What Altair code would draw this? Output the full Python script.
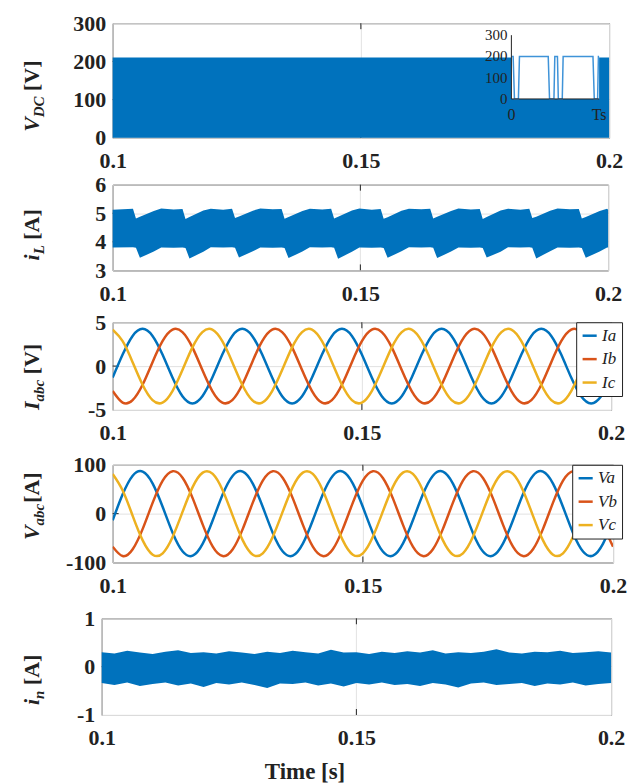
import altair as alt
import pandas as pd

# ---------------- colours / fonts ----------------
BLUE = "#0072BD"
RED = "#D95319"
YELLOW = "#EDB120"
INSET_BLUE = "#3f93d8"
INK = "#222222"
GRID = "#e2e2e2"
FONT = "Liberation Serif"

# ---------------- data ----------------
x_ticks = [0.1, 0.15, 0.2]

# panel 1: DC-link voltage (dense PWM -> solid envelope)
vdc_t = [0.1, 0.2]
vdc_hi = [210, 210]
vdc_lo = [0, 0]
vdc_yticks = [0, 100, 200, 300]

# inset: one switching period
ins_s = [0, 0.02, 0.035, 0.08, 0.092, 0.42, 0.435, 0.485, 0.495, 0.525, 0.535,
         0.58, 0.59, 0.93, 0.945, 0.983, 0.992, 1.0]
ins_v = [200, 200, 0, 0, 200, 200, 0, 0, 200, 200, 0, 0, 200, 200, 0, 0, 200, 200]
ins_yticks = [0, 100, 200, 300]
ins_xticks = [0, 1]
ins_xlabels = ["0", "Ts"]

# panel 2: inductor current envelope
il_t = [0.1000,
        0.1041, 0.1047, 0.1055, 0.1083, 0.1098, 0.1123,
        0.1141, 0.1147, 0.1155, 0.1183, 0.1198, 0.1223,
        0.1241, 0.1247, 0.1255, 0.1283, 0.1298, 0.1323,
        0.1341, 0.1347, 0.1355, 0.1383, 0.1398, 0.1423,
        0.1441, 0.1447, 0.1455, 0.1483, 0.1498, 0.1523,
        0.1541, 0.1547, 0.1555, 0.1583, 0.1598, 0.1623,
        0.1641, 0.1647, 0.1655, 0.1683, 0.1698, 0.1723,
        0.1741, 0.1747, 0.1755, 0.1783, 0.1798, 0.1823,
        0.1841, 0.1847, 0.1855, 0.1883, 0.1898, 0.1923,
        0.1941, 0.1947, 0.1955, 0.1983, 0.1998, 0.2000]
il_hi = [5.12,
         5.16, 4.82, 4.88, 5.08, 5.17, 5.13,
         5.15, 4.80, 4.87, 5.10, 5.16, 5.12,
         5.16, 4.83, 4.89, 5.09, 5.17, 5.14,
         5.15, 4.81, 4.87, 5.08, 5.16, 5.13,
         5.16, 4.82, 4.88, 5.10, 5.17, 5.12,
         5.15, 4.81, 4.86, 5.09, 5.16, 5.14,
         5.16, 4.82, 4.88, 5.08, 5.17, 5.13,
         5.15, 4.80, 4.87, 5.10, 5.16, 5.12,
         5.16, 4.83, 4.88, 5.09, 5.17, 5.14,
         5.15, 4.82, 4.87, 5.08, 5.16, 5.12]
il_lo = [3.80,
         3.81, 3.79, 3.44, 3.66, 3.80, 3.79,
         3.80, 3.78, 3.42, 3.65, 3.81, 3.80,
         3.81, 3.79, 3.45, 3.67, 3.80, 3.79,
         3.80, 3.78, 3.43, 3.66, 3.81, 3.80,
         3.81, 3.79, 3.41, 3.65, 3.80, 3.79,
         3.80, 3.78, 3.44, 3.67, 3.81, 3.80,
         3.81, 3.79, 3.43, 3.66, 3.80, 3.79,
         3.80, 3.78, 3.45, 3.65, 3.81, 3.80,
         3.81, 3.79, 3.42, 3.67, 3.80, 3.79,
         3.80, 3.78, 3.44, 3.66, 3.80, 3.80]
il_yticks = [3, 4, 5, 6]

# panels 3 and 4: three-phase currents and voltages (2 ms samples)
t_ph = [0.100, 0.102, 0.104, 0.106, 0.108, 0.110, 0.112, 0.114, 0.116, 0.118,
        0.120, 0.122, 0.124, 0.126, 0.128, 0.130, 0.132, 0.134, 0.136, 0.138,
        0.140, 0.142, 0.144, 0.146, 0.148, 0.150, 0.152, 0.154, 0.156, 0.158,
        0.160, 0.162, 0.164, 0.166, 0.168, 0.170, 0.172, 0.174, 0.176, 0.178,
        0.180, 0.182, 0.184, 0.186, 0.188, 0.190, 0.192, 0.194, 0.196, 0.198,
        0.200]
ia = [-1.31, 1.31, 3.44, 4.25, 3.44, 1.31, -1.31, -3.44, -4.25, -3.44,
      -1.31, 1.31, 3.44, 4.25, 3.44, 1.31, -1.31, -3.44, -4.25, -3.44,
      -1.31, 1.31, 3.44, 4.25, 3.44, 1.31, -1.31, -3.44, -4.25, -3.44,
      -1.31, 1.31, 3.44, 4.25, 3.44, 1.31, -1.31, -3.44, -4.25, -3.44,
      -1.31, 1.31, 3.44, 4.25, 3.44, 1.31, -1.31, -3.44, -4.25, -3.44,
      -1.31]
ib = [-2.84, -4.16, -3.88, -2.13, 0.45, 2.84, 4.16, 3.88, 2.13, -0.45,
      -2.84, -4.16, -3.88, -2.13, 0.45, 2.84, 4.16, 3.88, 2.13, -0.45,
      -2.84, -4.16, -3.88, -2.13, 0.45, 2.84, 4.16, 3.88, 2.13, -0.45,
      -2.84, -4.16, -3.88, -2.13, 0.45, 2.84, 4.16, 3.88, 2.13, -0.45,
      -2.84, -4.16, -3.88, -2.13, 0.45, 2.84, 4.16, 3.88, 2.13, -0.45,
      -2.84]
ic = [4.16, 2.84, 0.45, -2.13, -3.88, -4.16, -2.84, -0.45, 2.13, 3.88,
      4.16, 2.84, 0.45, -2.13, -3.88, -4.16, -2.84, -0.45, 2.13, 3.88,
      4.16, 2.84, 0.45, -2.13, -3.88, -4.16, -2.84, -0.45, 2.13, 3.88,
      4.16, 2.84, 0.45, -2.13, -3.88, -4.16, -2.84, -0.45, 2.13, 3.88,
      4.16, 2.84, 0.45, -2.13, -3.88, -4.16, -2.84, -0.45, 2.13, 3.88,
      4.16]
iabc_names = ["Ia", "Ib", "Ic"]
iabc_yticks = [-5, 0, 5]

va = [-13.6, 39.5, 77.5, 86.0, 61.5, 13.6, -39.5, -77.5, -86.0, -61.5,
      -13.6, 39.5, 77.5, 86.0, 61.5, 13.6, -39.5, -77.5, -86.0, -61.5,
      -13.6, 39.5, 77.5, 86.0, 61.5, 13.6, -39.5, -77.5, -86.0, -61.5,
      -13.6, 39.5, 77.5, 86.0, 61.5, 13.6, -39.5, -77.5, -86.0, -61.5,
      -13.6, 39.5, 77.5, 86.0, 61.5, 13.6, -39.5, -77.5, -86.0, -61.5,
      -13.6]
vb = [-67.6, -86.9, -73.0, -31.2, 22.5, 67.6, 86.9, 73.0, 31.2, -22.5,
      -67.6, -86.9, -73.0, -31.2, 22.5, 67.6, 86.9, 73.0, 31.2, -22.5,
      -67.6, -86.9, -73.0, -31.2, 22.5, 67.6, 86.9, 73.0, 31.2, -22.5,
      -67.6, -86.9, -73.0, -31.2, 22.5, 67.6, 86.9, 73.0, 31.2, -22.5,
      -67.6, -86.9, -73.0, -31.2, 22.5, 67.6, 86.9, 73.0, 31.2, -22.5,
      -67.6]
vc = [81.2, 47.4, -4.5, -54.8, -84.0, -81.2, -47.4, 4.5, 54.8, 84.0,
      81.2, 47.4, -4.5, -54.8, -84.0, -81.2, -47.4, 4.5, 54.8, 84.0,
      81.2, 47.4, -4.5, -54.8, -84.0, -81.2, -47.4, 4.5, 54.8, 84.0,
      81.2, 47.4, -4.5, -54.8, -84.0, -81.2, -47.4, 4.5, 54.8, 84.0,
      81.2, 47.4, -4.5, -54.8, -84.0, -81.2, -47.4, 4.5, 54.8, 84.0,
      81.2]
vabc_names = ["Va", "Vb", "Vc"]
vabc_yticks = [-100, 0, 100]

# panel 5: neutral current envelope
in_t = [0.1000, 0.1025, 0.1050, 0.1075, 0.1100, 0.1125, 0.1150, 0.1175, 0.1200, 0.1225,
        0.1250, 0.1275, 0.1300, 0.1325, 0.1350, 0.1375, 0.1400, 0.1425, 0.1450, 0.1475,
        0.1500, 0.1525, 0.1550, 0.1575, 0.1600, 0.1625, 0.1650, 0.1675, 0.1700, 0.1725,
        0.1750, 0.1775, 0.1800, 0.1825, 0.1850, 0.1875, 0.1900, 0.1925, 0.1950, 0.1975,
        0.2000]
in_hi = [0.30, 0.27, 0.33, 0.29, 0.26, 0.31, 0.34, 0.28, 0.30, 0.27,
         0.32, 0.29, 0.26, 0.31, 0.28, 0.33, 0.30, 0.27, 0.35, 0.29,
         0.30, 0.26, 0.31, 0.28, 0.32, 0.29, 0.34, 0.27, 0.30, 0.28,
         0.31, 0.36, 0.29, 0.27, 0.31, 0.30, 0.33, 0.28, 0.30, 0.32,
         0.29]
in_lo = [-0.34, -0.38, -0.33, -0.40, -0.36, -0.33, -0.39, -0.35, -0.42, -0.34,
         -0.37, -0.33, -0.38, -0.44, -0.35, -0.36, -0.33, -0.39, -0.35, -0.41,
         -0.34, -0.37, -0.33, -0.38, -0.36, -0.40, -0.34, -0.37, -0.43, -0.35,
         -0.33, -0.38, -0.36, -0.34, -0.40, -0.35, -0.37, -0.33, -0.39, -0.36,
         -0.34]
in_yticks = [-1, 0, 1]

# axis titles: (variable, subscript, unit)
p1_title = ["V", "DC", "[V]"]
p2_title = ["i", "L", "[A]"]
p3_title = ["I", "abc", "[V]"]
p4_title = ["V", "abc", "[A]"]
p5_title = ["i", "n", "[A]"]
xlabel_text = "Time [s]"

# ---------------- layout constants ----------------
W = [498, 497, 500, 502, 511]
H = [115, 86, 88, 98, 97]
LEFT = [102, 102, 102, 102, 91]
TOP = 11
BOTTOM = [34, 39, 42, 43, 58]
TS, SS = 22, 15
BI = {"V": .667, "D": .722, "C": .667, "i": .278, "L": .611, "I": .389,
      "a": .5, "b": .5, "c": .444, "n": .556}

ONE = pd.DataFrame({"k": [0]})
VIEW = alt.ViewBackground(stroke=INK, strokeWidth=1)
AXIS_STYLE = dict(labelFont=FONT, labelFontSize=22, labelFontWeight="bold", labelColor=INK,
                  labelFlush=False, labelOverlap=False, grid=True, gridColor=GRID,
                  domain=False, ticks=False, tickSize=0, title=None)


def xenc(field="t"):
    return alt.X(f"{field}:Q",
                 scale=alt.Scale(domain=[x_ticks[0], x_ticks[-1]], nice=False, zero=False),
                 axis=alt.Axis(values=x_ticks, labelExpr="format(datum.value, '~g')",
                               labelPadding=13, **AXIS_STYLE))


def yenc(ticks, field="v"):
    return alt.Y(f"{field}:Q",
                 scale=alt.Scale(domain=[ticks[0], ticks[-1]], nice=False, zero=False),
                 axis=alt.Axis(values=ticks,
                               labelExpr="(datum.value < 0 ? '-' : '') + format(abs(datum.value), '~g')",
                               labelPadding=7, **AXIS_STYLE))


def frame_layers(k, yticks):
    w, h = W[k], H[k]
    xin = pd.DataFrame({"t": x_ticks[1:-1]})
    yin = pd.DataFrame({"v": yticks[1:-1]})
    rule = dict(color=INK, strokeWidth=1)
    return [
        alt.Chart(xin).mark_rule(**rule).encode(x=xenc(), y=alt.value(0), y2=alt.value(6)),
        alt.Chart(xin).mark_rule(**rule).encode(x=xenc(), y=alt.value(h - 6), y2=alt.value(h)),
        alt.Chart(yin).mark_rule(**rule).encode(y=yenc(yticks), x=alt.value(0), x2=alt.value(6)),
        alt.Chart(yin).mark_rule(**rule).encode(y=yenc(yticks), x=alt.value(w - 6), x2=alt.value(w)),
        alt.Chart(ONE).mark_rule(opacity=0, strokeWidth=0).encode(
            x=alt.value(-LEFT[k]), y=alt.value(-TOP), y2=alt.value(h + BOTTOM[k])),
    ]


def ttext(label, size, style, x, y):
    return alt.Chart(ONE).mark_text(
        text=label, angle=270, align="left", baseline="alphabetic", font=FONT,
        fontSize=size, fontWeight="bold", fontStyle=style, color=INK
    ).encode(x=alt.value(x), y=alt.value(y))


def ytitle(parts, gap, x0, y0):
    main, sub, unit = parts
    y1 = y0 - sum(BI[c] for c in main) * TS
    y2 = y1 - sum(BI[c] for c in sub) * SS - gap
    return [ttext(main, TS, "italic", x0, y0),
            ttext(sub, SS, "italic", x0 + 5, y1),
            ttext(unit, TS, "normal", x0, y2)]


def legend(x, y):
    return alt.Legend(title=None, orient="none", legendX=x, legendY=y, direction="vertical",
                      fillColor="white", strokeColor=INK, padding=5, symbolType="stroke",
                      symbolSize=200, symbolStrokeWidth=2.5, rowPadding=5.5, labelOffset=4,
                      labelFont=FONT, labelFontSize=17, labelFontStyle="italic",
                      labelColor=INK, cornerRadius=0)


# ---------------- panel 1 ----------------
df_vdc = pd.DataFrame({"t": vdc_t, "v": vdc_hi, "v2": vdc_lo})
p1_main = alt.layer(
    *frame_layers(0, vdc_yticks),
    alt.Chart(df_vdc).mark_area(color=BLUE, opacity=1).encode(
        x=xenc(), y=yenc(vdc_yticks), y2="v2:Q"),
    *ytitle(p1_title, 5.5, -74, 109),
)

ins_xs = alt.Scale(domain=[ins_xticks[0], ins_xticks[-1]], range=[400, 488])
ins_ys = alt.Scale(domain=[ins_yticks[0], ins_yticks[-1]], range=[76, 12])
df_ins = pd.DataFrame({"s": ins_s, "v": ins_v})
df_ins_box = pd.DataFrame({"s0": [ins_xticks[0]], "s1": [ins_xticks[-1]],
                           "v0": [ins_yticks[0]], "v1": [ins_yticks[-1]]})
df_ins_y = pd.DataFrame({"s": [ins_xticks[0]] * len(ins_yticks), "v": ins_yticks,
                         "lab": [str(v) for v in ins_yticks]})
df_ins_x = pd.DataFrame({"s": ins_xticks, "v": [ins_yticks[0]] * len(ins_xticks),
                         "lab": ins_xlabels})
p1_inset = alt.layer(
    alt.Chart(df_ins_box).mark_rect(color="white").encode(
        x=alt.X("s0:Q", scale=ins_xs, axis=None), x2="s1:Q",
        y=alt.Y("v0:Q", scale=ins_ys, axis=None), y2="v1:Q"),
    alt.Chart(df_ins).mark_line(color=INSET_BLUE, strokeWidth=1.5).encode(
        x=alt.X("s:Q", scale=ins_xs, axis=None), y=alt.Y("v:Q", scale=ins_ys, axis=None)),
    alt.Chart(df_ins_box).mark_rule(color=INK, strokeWidth=1).encode(
        x=alt.X("s0:Q", scale=ins_xs, axis=None),
        y=alt.Y("v0:Q", scale=ins_ys, axis=None), y2="v1:Q"),
    alt.Chart(df_ins_box).mark_rule(color=INK, strokeWidth=1).encode(
        x=alt.X("s0:Q", scale=ins_xs, axis=None), x2="s1:Q",
        y=alt.Y("v0:Q", scale=ins_ys, axis=None)),
    alt.Chart(df_ins_y).mark_text(align="right", baseline="middle", dx=-4, font=FONT,
                                  fontSize=15, color=INK).encode(
        x=alt.X("s:Q", scale=ins_xs, axis=None), y=alt.Y("v:Q", scale=ins_ys, axis=None),
        text="lab:N"),
    alt.Chart(df_ins_x).mark_text(align="center", baseline="middle", dy=16, font=FONT,
                                  fontSize=16, color=INK).encode(
        x=alt.X("s:Q", scale=ins_xs, axis=None), y=alt.Y("v:Q", scale=ins_ys, axis=None),
        text="lab:N"),
)
p1 = alt.layer(p1_main, p1_inset).resolve_scale(
    x="independent", y="independent").properties(width=W[0], height=H[0], view=VIEW)

# ---------------- panel 2 ----------------
df_il = pd.DataFrame({"t": il_t, "v": il_hi, "v2": il_lo})
p2 = alt.layer(
    *frame_layers(1, il_yticks),
    alt.Chart(df_il).mark_area(color=BLUE, opacity=1).encode(
        x=xenc(), y=yenc(il_yticks), y2="v2:Q"),
    *ytitle(p2_title, 5.5, -74, 76),
).properties(width=W[1], height=H[1], view=VIEW)

# ---------------- panel 3 ----------------
n = len(t_ph)
df_i = pd.DataFrame({"t": t_ph * 3, "v": ia + ib + ic,
                     "name": [iabc_names[0]] * n + [iabc_names[1]] * n + [iabc_names[2]] * n})
p3 = alt.layer(
    *frame_layers(2, iabc_yticks),
    alt.Chart(df_i).mark_line(strokeWidth=2.5, interpolate="natural", clip=True).encode(
        x=xenc(), y=yenc(iabc_yticks),
        color=alt.Color("name:N", scale=alt.Scale(domain=iabc_names, range=[BLUE, RED, YELLOW]),
                        legend=legend(465, 0))),
    *ytitle(p3_title, 5.5, -74, 88),
).properties(width=W[2], height=H[2], view=VIEW)

# ---------------- panel 4 ----------------
df_v = pd.DataFrame({"t": t_ph * 3, "v": va + vb + vc,
                     "name": [vabc_names[0]] * n + [vabc_names[1]] * n + [vabc_names[2]] * n})
p4 = alt.layer(
    *frame_layers(3, vabc_yticks),
    alt.Chart(df_v).mark_line(strokeWidth=2.5, interpolate="natural", clip=True).encode(
        x=xenc(), y=yenc(vabc_yticks),
        color=alt.Color("name:N", scale=alt.Scale(domain=vabc_names, range=[BLUE, RED, YELLOW]),
                        legend=legend(461, 0))),
    *ytitle(p4_title, 1.0, -74, 75.5),
).properties(width=W[3], height=H[3], view=VIEW)

# ---------------- panel 5 ----------------
df_in = pd.DataFrame({"t": in_t, "v": in_hi, "v2": in_lo})
p5 = alt.layer(
    *frame_layers(4, in_yticks),
    alt.Chart(df_in).mark_area(color=BLUE, opacity=1).encode(
        x=xenc(), y=yenc(in_yticks), y2="v2:Q"),
    *ytitle(p5_title, 5.5, -63, 87),
    alt.Chart(ONE).mark_text(text=xlabel_text, align="center", baseline="middle", font=FONT,
                             fontSize=23, fontWeight="bold", color=INK).encode(
        x=alt.value(204), y=alt.value(154)),
).properties(width=W[4], height=H[4], view=VIEW)

# ---------------- assemble ----------------
spacer = alt.Chart(ONE).mark_rule(opacity=0, strokeWidth=0).encode(
    x=alt.value(0), y=alt.value(0), y2=alt.value(1)
).properties(width=1, height=1, view=alt.ViewBackground(strokeOpacity=0))

chart = alt.concat(
    spacer, p1, spacer, p2, spacer, p3, spacer, p4, spacer, p5,
    columns=2, spacing=0, align="none", bounds="full"
).resolve_scale(color="independent").properties(
    padding={"left": 1, "top": 2, "right": 5, "bottom": 0}
).configure_view(
    stroke=INK, strokeWidth=1
).configure_axis(
    labelFont=FONT, labelFontSize=22, labelFontWeight="bold", labelColor=INK,
    domain=False, ticks=False, tickSize=0, gridColor=GRID, gridWidth=1
)

chart.save("out.html", embed_options={"renderer": "svg", "actions": False})
